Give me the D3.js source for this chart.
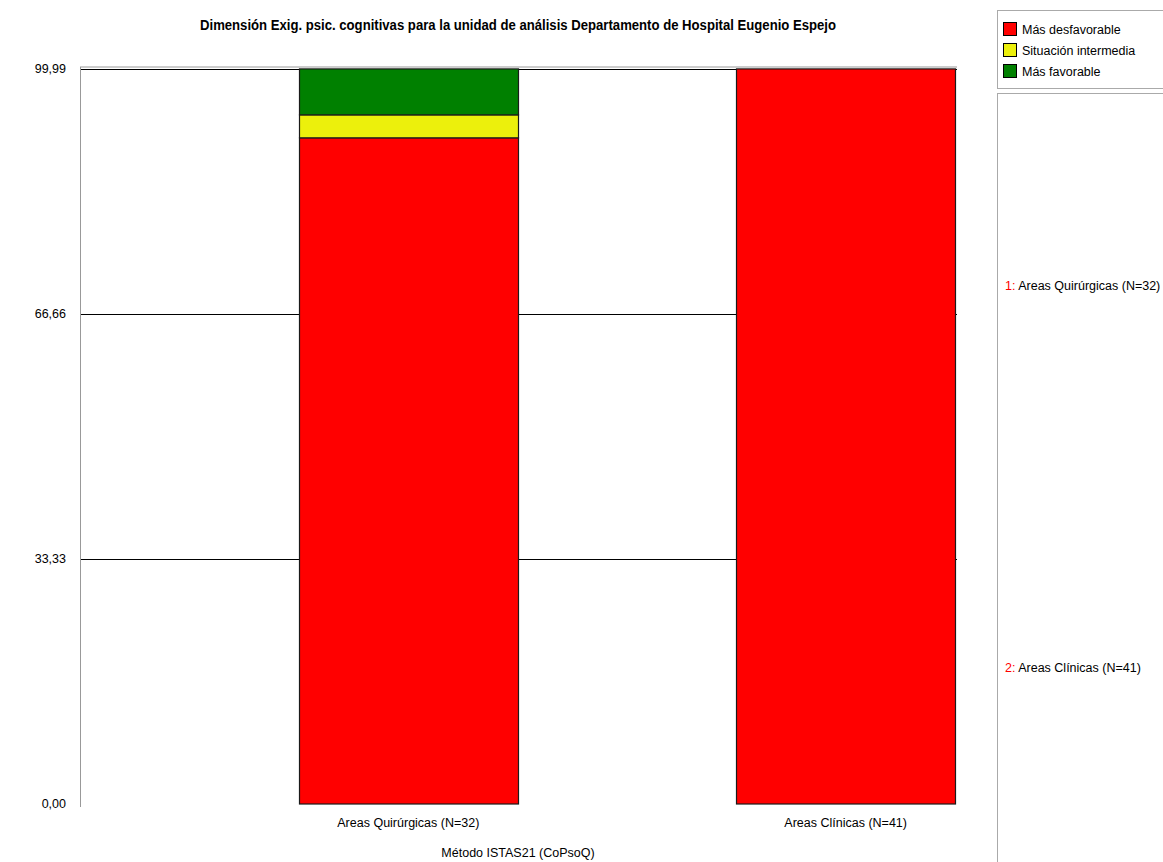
<!DOCTYPE html>
<html><head><meta charset="utf-8">
<script src="https://cdn.jsdelivr.net/npm/d3@7"></script>
<style>body{margin:0;background:#fff}svg{display:block}text{font-family:"Liberation Sans Narrow","Arial Narrow","Liberation Sans",sans-serif}</style>
</head><body><svg id="c" width="1163" height="862"></svg>
<script>
const categories = ["Areas Quirúrgicas (N=32)", "Areas Clínicas (N=41)"];
const seriesNames = ["Más desfavorable", "Situación intermedia", "Más favorable"];
const masDesfavorable = [90.625, 100];
const situacionIntermedia = [3.125, 0];
const masFavorable = [6.25, 0];
const tickValues = [0, 33.33, 66.66, 99.99];
const tickLabels = ["0,00", "33,33", "66,66", "99,99"];
const colors = ["#ff0000", "#ecf00c", "#008000"];
const title = "Dimensión Exig. psic. cognitivas para la unidad de análisis Departamento de Hospital Eugenio Espejo";
const xTitle = "Método ISTAS21 (CoPsoQ)";

(function(){
const svg = d3.select("#c");
const pLeft = 80, pRight = 957, pTop = 69, pBottom = 804;
const y = d3.scaleLinear().domain([0, 99.99]).range([pBottom, pTop]);
const x = d3.scaleBand().domain(categories).range([299, 955]).paddingInner(0.5);

svg.append("text").attr("x", 518).attr("y", 30).attr("text-anchor", "middle")
  .attr("font-size", 14).attr("font-weight", "bold")
  .attr("textLength", 636).attr("lengthAdjust", "spacingAndGlyphs").text(title);

svg.append("line").attr("x1", pLeft).attr("x2", pRight).attr("y1", pTop - 2).attr("y2", pTop - 2).attr("stroke", "#bbb").attr("stroke-width", 1.5);
svg.append("g").selectAll("line").data(tickValues.filter(d => d > 0)).join("line")
  .attr("x1", pLeft).attr("x2", pRight).attr("y1", d => Math.round(y(d)) + 0.5).attr("y2", d => Math.round(y(d)) + 0.5)
  .attr("stroke", "#000").attr("stroke-width", 1.2);
svg.append("line").attr("x1", pLeft + 0.5).attr("x2", pLeft + 0.5).attr("y1", pTop - 2).attr("y2", pBottom + 3).attr("stroke", "#999");
svg.append("g").selectAll("text").data(tickValues).join("text")
  .attr("x", 66).attr("y", d => y(d) + 4).attr("text-anchor", "end").attr("font-size", 12.5)
  .text((d, i) => tickLabels[i]);

const series = [masDesfavorable, situacionIntermedia, masFavorable];
const g = svg.append("g");
categories.forEach((c, i) => {
  let acc = 0;
  series.forEach((s, k) => {
    const v = s[i];
    if (v > 0) {
      g.append("rect").attr("x", Math.round(x(c)) + 0.5).attr("width", Math.round(x.bandwidth()))
        .attr("y", y(acc + v)).attr("height", y(acc) - y(acc + v))
        .attr("fill", colors[k]).attr("stroke", "#1a1a1a").attr("stroke-width", 1.2);
    }
    acc += v;
  });
});

svg.append("g").selectAll("text").data(categories).join("text")
  .attr("x", d => x(d) + x.bandwidth() / 2).attr("y", 827).attr("text-anchor", "middle").attr("font-size", 12.5).text(d => d);
svg.append("text").attr("x", 518).attr("y", 857).attr("text-anchor", "middle").attr("font-size", 12.5).text(xTitle);

svg.append("rect").attr("x", 997.5).attr("y", 10.5).attr("width", 170).attr("height", 78).attr("fill", "none").attr("stroke", "#aaa");
const lg = svg.append("g").selectAll("g").data(seriesNames).join("g")
  .attr("transform", (d, i) => `translate(1003,${22 + i * 21})`);
lg.append("rect").attr("x", 0.5).attr("y", 0.5).attr("width", 13).attr("height", 13).attr("fill", (d, i) => colors[i]).attr("stroke", "#000");
lg.append("text").attr("x", 19).attr("y", 12).attr("font-size", 12.5).text(d => d);

svg.append("rect").attr("x", 997.5).attr("y", 93.5).attr("width", 170).attr("height", 780).attr("fill", "none").attr("stroke", "#aaa");
const panelY = [290, 672];
const pg = svg.append("g").selectAll("text").data(categories).join("text")
  .attr("x", 1005).attr("y", (d, i) => panelY[i]).attr("font-size", 12.5);
pg.append("tspan").attr("fill", "#ff0000").text((d, i) => (i + 1) + ": ");
pg.append("tspan").attr("fill", "#000").text(d => d);
})();
</script></body></html>
